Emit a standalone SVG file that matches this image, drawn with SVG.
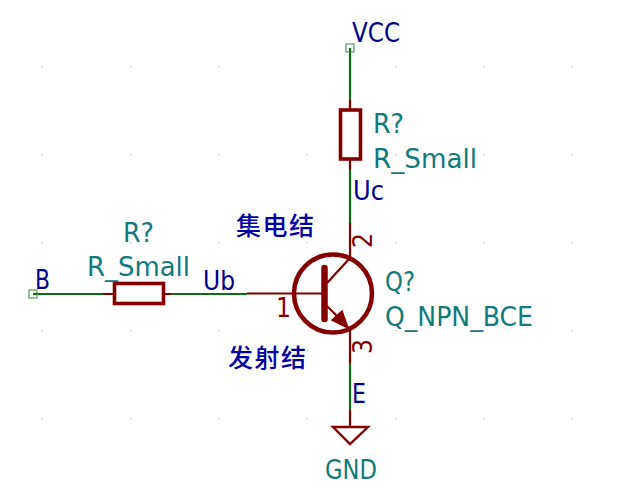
<svg xmlns="http://www.w3.org/2000/svg" width="625" height="500" viewBox="0 0 625 500">
<defs>
<style>
.w{fill:none;stroke:#0a6e14;stroke-width:2.2}
.p{fill:none;stroke:#840000;stroke-width:2.2}
.b{fill:#fff;stroke:#840000;stroke-width:3.600}
.t{font-family:"DejaVu Sans",sans-serif;font-size:27px}
.f{fill:#107a7a}
.n{fill:#00008c}
.r{fill:#840000}
.c{font-family:"Noto Sans CJK SC",sans-serif;font-size:25px;font-weight:500;fill:#0000a0}
.d{fill:#cfcfcf}
.q{fill:#fff;stroke:#5fa36a;stroke-width:1.3}
</style>
</defs>
<rect width="625" height="500" fill="#fff"/>
<g id="grid" class="d">
<rect x="41.500" y="66" width="1.500" height="1.500"/><rect x="130" y="66" width="1.500" height="1.500"/><rect x="218" y="66" width="1.500" height="1.500"/><rect x="395" y="66" width="1.500" height="1.500"/><rect x="483" y="66" width="1.500" height="1.500"/><rect x="571" y="66" width="1.500" height="1.500"/>
<rect x="41.500" y="154" width="1.500" height="1.500"/><rect x="130" y="154" width="1.500" height="1.500"/><rect x="218" y="154" width="1.500" height="1.500"/><rect x="306" y="154" width="1.500" height="1.500"/><rect x="395" y="154" width="1.500" height="1.500"/><rect x="483" y="154" width="1.500" height="1.500"/><rect x="571" y="154" width="1.500" height="1.500"/>
<rect x="41.500" y="242" width="1.500" height="1.500"/><rect x="130" y="242" width="1.500" height="1.500"/><rect x="218" y="242" width="1.500" height="1.500"/><rect x="306" y="242" width="1.500" height="1.500"/><rect x="395" y="242" width="1.500" height="1.500"/><rect x="483" y="242" width="1.500" height="1.500"/><rect x="571" y="242" width="1.500" height="1.500"/>
<rect x="41.500" y="330" width="1.500" height="1.500"/><rect x="130" y="330" width="1.500" height="1.500"/><rect x="218" y="330" width="1.500" height="1.500"/><rect x="395" y="330" width="1.500" height="1.500"/><rect x="483" y="330" width="1.500" height="1.500"/><rect x="571" y="330" width="1.500" height="1.500"/>
<rect x="41.500" y="418" width="1.500" height="1.500"/><rect x="130" y="418" width="1.500" height="1.500"/><rect x="218" y="418" width="1.500" height="1.500"/><rect x="306" y="418" width="1.500" height="1.500"/><rect x="395" y="418" width="1.500" height="1.500"/><rect x="483" y="418" width="1.500" height="1.500"/><rect x="571" y="418" width="1.500" height="1.500"/>
</g>
<g id="connectors">
<path class="w" d="M350 47V100M350 170V223M350 363V410M33 294H103M171 294H247"/>
</g>
<g id="R-vertical">
<path class="p" d="M350 100V110M350 159V170"/>
<rect class="b" x="340.500" y="110" width="20" height="49"/>
<text class="t f" x="373" y="133" textLength="31" lengthAdjust="spacingAndGlyphs">R?</text>
<text class="t f" x="373" y="168" textLength="104" lengthAdjust="spacingAndGlyphs">R_Small</text>
</g>
<g id="R-horizontal">
<path class="p" d="M103 294H114M164 294H171"/>
<rect class="b" x="114.500" y="283.500" width="49" height="20"/>
<text class="t f" x="123" y="242" textLength="31" lengthAdjust="spacingAndGlyphs">R?</text>
<text class="t f" x="87" y="276" textLength="103" lengthAdjust="spacingAndGlyphs">R_Small</text>
</g>
<g id="Q-transistor">
<path class="p" d="M247 293.500H325M350 223V258M350 328V363"/>
<circle cx="333" cy="293.500" r="39" fill="#fff" stroke="#840000" stroke-width="4.500"/>
<path class="p" d="M292 293.500H325M327 283L350 258M327 306L348 327"/>
<path d="M324.500 268V319" fill="none" stroke="#840000" stroke-width="6.500" stroke-linecap="round"/>
<path d="M348 328L332 320L342 311Z" fill="#840000" stroke="#840000" stroke-width="1.500"/>
<text class="t r" x="276" y="317" textLength="15" lengthAdjust="spacingAndGlyphs">1</text>
<text class="t r" transform="translate(372 248) rotate(-90)" textLength="15" lengthAdjust="spacingAndGlyphs">2</text>
<text class="t r" transform="translate(372 354) rotate(-90)" textLength="15" lengthAdjust="spacingAndGlyphs">3</text>
<text class="t f" x="385" y="291" textLength="30" lengthAdjust="spacingAndGlyphs">Q?</text>
<text class="t f" x="385" y="326" textLength="148" lengthAdjust="spacingAndGlyphs">Q_NPN_BCE</text>
</g>
<g id="port-VCC">
<rect class="q" x="346" y="44" width="8" height="8"/>
<path class="w" d="M350 48V52"/>
<text class="t n" x="352" y="42" textLength="48" lengthAdjust="spacingAndGlyphs">VCC</text>
</g>
<g id="port-B">
<rect class="q" x="29" y="290" width="8" height="8"/>
<path class="w" d="M33 294H37"/>
<text class="t n" x="35" y="289" textLength="15" lengthAdjust="spacingAndGlyphs">B</text>
</g>
<g id="GND">
<path class="p" d="M350 410V427"/>
<path d="M333 427H368L350 444Z" fill="none" stroke="#840000" stroke-width="2.400"/>
<text class="t f" x="325" y="479" textLength="52" lengthAdjust="spacingAndGlyphs">GND</text>
</g>
<g id="label-Uc"><text class="t n" x="353" y="200" textLength="31" lengthAdjust="spacingAndGlyphs">Uc</text></g>
<g id="label-Ub"><text class="t n" x="203" y="290" textLength="32" lengthAdjust="spacingAndGlyphs">Ub</text></g>
<g id="label-E"><text class="t n" x="352" y="403" textLength="14" lengthAdjust="spacingAndGlyphs">E</text></g>
<g id="label-collector"><text class="c" x="236" y="235" textLength="78">集电结</text></g>
<g id="label-emitter"><text class="c" x="228" y="367" textLength="78">发射结</text></g>
</svg>
